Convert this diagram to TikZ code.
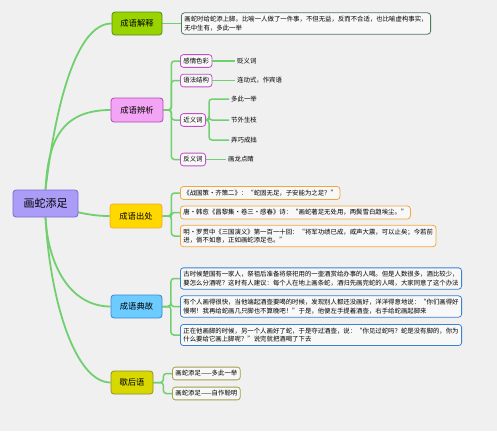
\documentclass[tikz,border=0pt]{standalone}
\usepackage{fontspec}
\setmainfont{Noto Sans CJK SC}
\usetikzlibrary{backgrounds}

\definecolor{paper}{HTML}{F0F0F0}
\definecolor{stem}{HTML}{70D070}
\definecolor{rootfill}{HTML}{AA9CF7}
\definecolor{rootline}{HTML}{7C68D0}
\definecolor{jsfill}{HTML}{99D400}
\definecolor{jsline}{HTML}{4E8A1E}
\definecolor{jscard}{HTML}{4F7A5E}
\definecolor{bxfill}{HTML}{F4A4F4}
\definecolor{bxline}{HTML}{B048B8}
\definecolor{bxcard}{HTML}{C050C4}
\definecolor{ccfill}{HTML}{FFD800}
\definecolor{ccline}{HTML}{F0A830}
\definecolor{cccard}{HTML}{F5A63A}
\definecolor{dgfill}{HTML}{6CCBFF}
\definecolor{dgline}{HTML}{3A86D0}
\definecolor{dgcard}{HTML}{3A82D4}
\definecolor{xhfill}{HTML}{D8D800}
\definecolor{xhline}{HTML}{8E8E2A}
\definecolor{xhcard}{HTML}{A0A048}

\begin{document}
\begin{tikzpicture}[x=1pt, y=-1pt, font=\fontsize{6.4}{8.4}\selectfont,
  topic/.style={draw, line width=0.8pt, rounded corners=3pt, inner sep=0pt,
    font=\fontsize{8.3}{10}\selectfont},
  card/.style={draw, line width=0.8pt, rounded corners=3pt, fill=white!55!paper,
    anchor=west, align=left, inner xsep=3pt, inner ysep=3.4pt},
  leaf/.style={anchor=west, inner sep=2pt},
  branch/.style={stem, line width=1.8pt},
  twig/.style={stem, line width=1.5pt, rounded corners=3pt}]
  \useasboundingbox (0,0) rectangle (497,431);

  % centre and main topics
  \node[topic, fill=rootfill, draw=rootline, minimum width=65pt, minimum height=27pt,
    font=\fontsize{11}{13}\selectfont] (root) at (45.5,203.5) {画蛇添足};
  \node[topic, fill=jsfill, draw=jsline, minimum width=50pt, minimum height=23pt]
    (jieshi) at (137,23.5) {成语解释};
  \node[topic, fill=bxfill, draw=bxline, minimum width=52pt, minimum height=24pt]
    (bianxi) at (137,110) {成语辨析};
  \node[topic, fill=ccfill, draw=ccline, minimum width=52pt, minimum height=24pt]
    (chuchu) at (136,216) {成语出处};
  \node[topic, fill=dgfill, draw=dgline, minimum width=51pt, minimum height=23pt]
    (diangu) at (136.5,306.5) {成语典故};
  \node[topic, fill=xhfill, draw=xhline, minimum width=42pt, minimum height=23pt]
    (xiehou) at (132,382.5) {歇后语};

  % 成语解释
  \node[card, draw=jscard] (expl) at (181,23.5)
    {画蛇时给蛇添上脚。比喻一人做了一件事，不但无益，反而不合适，也比喻虚构事实，\\无中生有，多此一举};

  % 成语辨析
  \node[card, draw=bxcard] (ganqing) at (180,61) {感情色彩};
  \node[card, draw=bxcard] (yufa) at (180,80.5) {语法结构};
  \node[card, draw=bxcard] (jinyi) at (180,120) {近义词};
  \node[card, draw=bxcard] (fanyi) at (180,159.5) {反义词};
  \node[leaf] (bianyi) at (235,61) {贬义词};
  \node[leaf] (liandong) at (235,80.5) {连动式，作宾语};
  \node[leaf] (duoci) at (229,99) {多此一举};
  \node[leaf] (jiewai) at (229,120) {节外生枝};
  \node[leaf] (nongqiao) at (229,140) {弄巧成拙};
  \node[leaf] (hualong) at (226,159.5) {画龙点睛};

  % 成语出处
  \node[card, draw=cccard] (src1) at (180,193)
    {《战国策·齐策二》：“蛇固无足，子安能为之足？”};
  \node[card, draw=cccard] (src2) at (180,212.5)
    {唐·韩愈《昌黎集·卷三·感春》诗：“画蛇著足无处用，两鬓雪白趋埃尘。”};
  \node[card, draw=cccard] (src3) at (180,236)
    {明·罗贯中《三国演义》第一百一十回：“将军功绩已成，威声大震，可以止矣；今若前\\进，倘不如意，正如画蛇添足也。”};

  % 成语典故
  \node[card, draw=dgcard] (story1) at (180,278.5)
    {古时候楚国有一家人，祭祖后准备将祭祀用的一壶酒赏给办事的人喝。但是人数很多，酒比较少，\\要怎么分酒呢？这时有人建议：每个人在地上画条蛇，酒归先画完蛇的人喝，大家同意了这个办法};
  \node[card, draw=dgcard] (story2) at (180,306.5)
    {有个人画得很快，当他端起酒壶要喝的时候，发现别人都还没画好，洋洋得意地说：“你们画得好\\慢啊！我再给蛇画几只脚也不算晚吧！”于是，他便左手提着酒壶，右手给蛇画起脚来};
  \node[card, draw=dgcard] (story3) at (180,335)
    {正在他画脚的时候，另一个人画好了蛇，于是夺过酒壶，说：“你见过蛇吗？蛇是没有脚的，你为\\什么要给它画上脚呢？”说完就把酒喝了下去};

  % 歇后语
  \node[card, draw=xhcard] (xh1) at (172,373.5) {画蛇添足——多此一举};
  \node[card, draw=xhcard] (xh2) at (172,393.5) {画蛇添足——自作聪明};

  \begin{pgfonlayer}{background}
    \fill[paper] (0,0) rectangle (497,431);
    % curves from the centre
    \draw[branch] (root.north) .. controls (55,110) and (75,23.5) .. (jieshi.west);
    \draw[branch] (root.north) .. controls (48,140) and (62,110) .. (bianxi.west);
    \draw[branch] (root.center) .. controls (80,214) and (95,216) .. (chuchu.west);
    \draw[branch] (root.south) .. controls (48,265) and (70,306.5) .. (diangu.west);
    \draw[branch] (root.south) .. controls (50,300) and (75,382.5) .. (xiehou.west);
    % elbows
    \draw[twig] (jieshi.east) -- (expl.west);
    \foreach \k in {ganqing, yufa, jinyi, fanyi}
      \draw[twig] (bianxi.east) -- ++(8,0) |- (\k.west);
    \draw[twig] (ganqing.east) -- (bianyi.west);
    \draw[twig] (yufa.east) -- (liandong.west);
    \foreach \k in {duoci, jiewai, nongqiao}
      \draw[twig] (jinyi.east) -- ++(3,0) |- (\k.west);
    \draw[twig] (fanyi.east) -- (hualong.west);
    \foreach \k in {src1, src2, src3}
      \draw[twig] (chuchu.east) -- ++(9,0) |- (\k.west);
    \foreach \k in {story1, story2, story3}
      \draw[twig] (diangu.east) -- ++(8.5,0) |- (\k.west);
    \foreach \k in {xh1, xh2}
      \draw[twig] (xiehou.east) -- ++(10,0) |- (\k.west);
  \end{pgfonlayer}
\end{tikzpicture}
\end{document}
